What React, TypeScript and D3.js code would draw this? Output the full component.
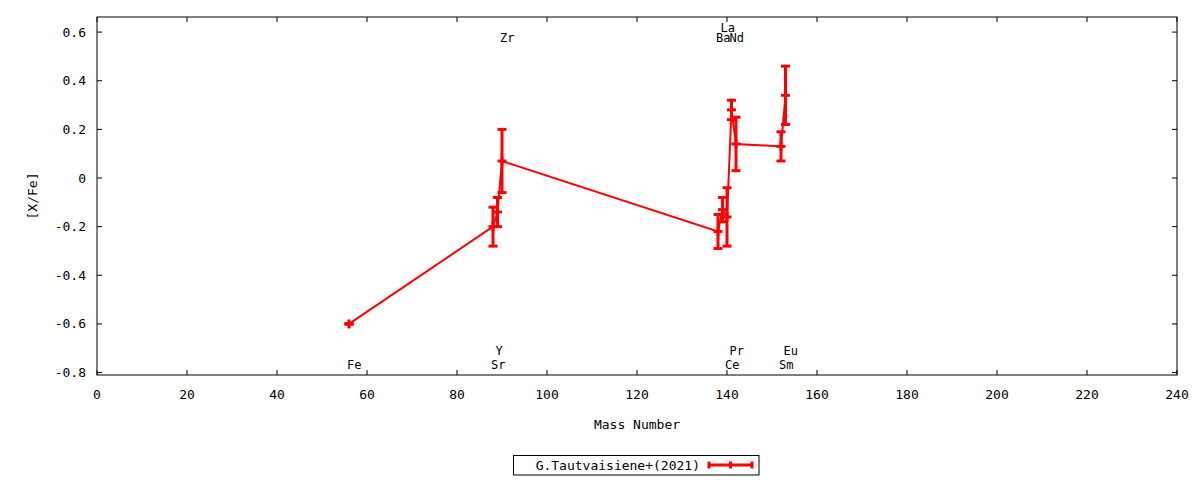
import * as d3 from "d3";

// element abundances (mass number, [X/Fe], error)
const ELEMENTS = ["Fe", "Sr", "Y", "Zr", "Ba", "La", "Ce", "Pr", "Nd", "Sm", "Eu"];
const MASS = [56, 88, 89, 90, 138, 139, 140, 141, 142, 152, 153];
const XFE = [-0.6, -0.2, -0.14, 0.07, -0.22, -0.13, -0.16, 0.28, 0.14, 0.13, 0.34];
const ERR = [0, 0.08, 0.06, 0.13, 0.07, 0.05, 0.12, 0.04, 0.11, 0.06, 0.12];

// element name labels: text, mass position, row (top/bottom, 1 = outer)
const LABEL_TEXT = ["Fe", "Sr", "Y", "Zr", "Ba", "La", "Nd", "Ce", "Pr", "Sm", "Eu"];
const LABEL_MASS = [56, 88, 89, 90, 138, 139, 141, 140, 141, 152, 153];
const LABEL_ROW = ["b1", "b1", "b2", "t1", "t1", "t2", "t1", "b1", "b2", "b1", "b2"];

const X_TICKS = d3.range(0, 241, 20);
const Y_TICKS = [-0.8, -0.6, -0.4, -0.2, 0, 0.2, 0.4, 0.6];
const LEGEND_LABEL = "G.Tautvaisiene+(2021)";

const W = 1200;
const H = 480;
const margin = { top: 17, right: 23, bottom: 105, left: 97 };
const FONT = "'DejaVu Sans Mono', monospace";
const RED = "#ff0000";

const ROW_Y: Record<string, number> = { t1: 42, t2: 32, b1: 369, b2: 355 };

export default function App() {
  const x = d3.scaleLinear().domain([0, 240]).range([margin.left, W - margin.right]);
  const y = d3.scaleLinear().domain([-0.81, 0.662]).range([H - margin.bottom, margin.top]);

  const pts = MASS.map((m, i) => ({ m, v: XFE[i], e: ERR[i], name: ELEMENTS[i] }));
  const line = d3
    .line<{ m: number; v: number }>()
    .x((d) => x(d.m))
    .y((d) => y(d.v));

  const x0 = margin.left;
  const x1 = W - margin.right;
  const y0 = margin.top;
  const y1 = H - margin.bottom;
  const tick = 5;
  const cap = 4.5;

  const fmtY = (d: number) => (d === 0 ? "0" : d.toFixed(1));

  return (
    <div style={{ position: "absolute", left: 0, top: 0 }}>
      <svg width={W} height={H} style={{ display: "block", background: "#fff" }} fontFamily={FONT} fontSize={13}>
        {/* ticks on all four sides */}
        {X_TICKS.map((t) => (
          <g key={"xt" + t}>
            <line x1={x(t)} x2={x(t)} y1={y1} y2={y1 - tick} stroke="#000" />
            <line x1={x(t)} x2={x(t)} y1={y0} y2={y0 + tick} stroke="#000" />
            <text x={x(t)} y={399} textAnchor="middle" fill="#000">
              {t}
            </text>
          </g>
        ))}
        {Y_TICKS.map((t) => (
          <g key={"yt" + t}>
            <line x1={x0} x2={x0 + tick} y1={y(t)} y2={y(t)} stroke="#000" />
            <line x1={x1} x2={x1 - tick} y1={y(t)} y2={y(t)} stroke="#000" />
            <text x={86} y={y(t)} dy="0.35em" textAnchor="end" fill="#000">
              {fmtY(t)}
            </text>
          </g>
        ))}
        <rect x={x0} y={y0} width={x1 - x0} height={y1 - y0} fill="none" stroke="#000" />

        {/* axis titles */}
        <text x={(x0 + x1) / 2} y={429} textAnchor="middle" fill="#000">
          Mass Number
        </text>
        <text
          transform={`translate(37,${(y0 + y1) / 2}) rotate(-90)`}
          textAnchor="middle"
          fill="#000"
        >
          [X/Fe]
        </text>

        {/* element labels */}
        {LABEL_TEXT.map((t, i) => (
          <text key={"lb" + i} x={x(LABEL_MASS[i]) - 2} y={ROW_Y[LABEL_ROW[i]]} fontSize={12} fill="#000">
            {t}
          </text>
        ))}

        {/* connecting line */}
        <path d={line(pts) || ""} fill="none" stroke={RED} strokeWidth={2} />

        {/* error bars + points */}
        {pts.map((p) => {
          const cx = x(p.m);
          const top = y(p.v + p.e);
          const bot = y(p.v - p.e);
          const cy = y(p.v);
          return (
            <g key={p.name} stroke={RED} strokeWidth={3}>
              <line x1={cx} x2={cx} y1={top} y2={bot} />
              <line x1={cx - cap} x2={cx + cap} y1={top} y2={top} />
              <line x1={cx - cap} x2={cx + cap} y1={bot} y2={bot} />
              <line x1={cx - cap} x2={cx + cap} y1={cy} y2={cy} />
              <line x1={cx} x2={cx} y1={cy - cap} y2={cy + cap} />
            </g>
          );
        })}

        {/* legend */}
        <rect x={513.5} y={455.5} width={245.5} height={19.5} fill="none" stroke="#000" />
        <text x={700} y={469.5} textAnchor="end" fill="#000">
          {LEGEND_LABEL}
        </text>
        <g stroke={RED} strokeWidth={3}>
          <line x1={709} x2={752} y1={465} y2={465} />
          <line x1={709} x2={709} y1={461.5} y2={468.5} />
          <line x1={730.5} x2={730.5} y1={461.5} y2={468.5} />
          <line x1={752} x2={752} y1={461.5} y2={468.5} />
        </g>
      </svg>
    </div>
  );
}
